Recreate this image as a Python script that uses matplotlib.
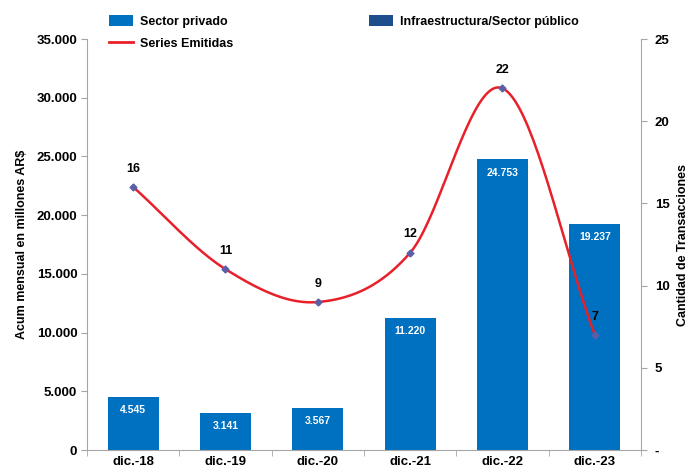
import numpy as np
import matplotlib
matplotlib.use("Agg")
import matplotlib.pyplot as plt
from matplotlib.patches import Patch
from matplotlib.lines import Line2D
from matplotlib.ticker import FuncFormatter, FixedLocator

plt.rcParams['font.family'] = ['Liberation Sans', 'DejaVu Sans']
plt.rcParams['font.weight'] = 'bold'

categories = ["dic.-18", "dic.-19", "dic.-20", "dic.-21", "dic.-22", "dic.-23"]
sector_privado = [4545, 3141, 3567, 11220, 24753, 19237]
series_emitidas = [16, 11, 9, 12, 22, 7]

BAR = "#0070C0"
DARK = "#1F4E8C"
RED = "#E8202A"
GREY = "#A6A6A6"

fig = plt.figure(figsize=(6.91, 4.69), dpi=100)
ax = fig.add_axes([87/691, 19/469, (641-87)/691, (450-39)/469])
ax2 = ax.twinx()

x = np.arange(len(categories))
bars = ax.bar(x, sector_privado, width=0.55, color=BAR, zorder=2)
for xi, v in zip(x, sector_privado):
    ax.text(xi, v - 700, f"{v:,}".replace(",", "."), ha="center", va="top",
            color="white", fontsize=7.5, fontweight="bold", zorder=3)

ax.set_xlim(-0.5, len(categories) - 0.5)
ax.set_ylim(0, 35000)
ax.yaxis.set_major_locator(FixedLocator(np.arange(0, 35001, 5000)))
ax.yaxis.set_major_formatter(FuncFormatter(lambda v, p: f"{int(v):,}".replace(",", ".")))
ax.set_xticks(x)
ax.set_xticklabels(categories)
ax.set_xticks(np.arange(-0.5, len(categories), 1.0), minor=True)
ax.tick_params(axis="x", which="major", length=0, pad=4, labelsize=9.5)
ax.tick_params(axis="x", which="minor", length=4, color=GREY, direction="out")
ax.tick_params(axis="y", length=4, color=GREY, labelsize=9.5, pad=3)
for lab in ax.get_xticklabels() + ax.get_yticklabels():
    lab.set_fontweight("bold")
ax.set_ylabel("Acum mensual en millones AR$", fontsize=9, fontweight="bold", labelpad=6)

# smooth line (Catmull-Rom through the data points)
def catmull_rom(xs, ys, n=40):
    xs = np.asarray(xs, float); ys = np.asarray(ys, float)
    px = np.concatenate([[2*xs[0]-xs[1]], xs, [2*xs[-1]-xs[-2]]])
    py = np.concatenate([[2*ys[0]-ys[1]], ys, [2*ys[-1]-ys[-2]]])
    ox, oy = [], []
    for i in range(1, len(px) - 2):
        t = np.linspace(0, 1, n, endpoint=(i == len(px) - 3))
        for arr, out in ((px, ox), (py, oy)):
            p0, p1, p2, p3 = arr[i-1], arr[i], arr[i+1], arr[i+2]
            out.extend(0.5*((2*p1) + (-p0+p2)*t + (2*p0-5*p1+4*p2-p3)*t**2 + (-p0+3*p1-3*p2+p3)*t**3))
    return np.array(ox), np.array(oy)

sx, sy = catmull_rom(x, series_emitidas)
ax2.plot(sx, sy, color=RED, lw=1.8, zorder=4)
ax2.plot(x, series_emitidas, ls="none", marker="D", ms=3.5, mfc="#5B5FA8", mec="#5B5FA8", zorder=5)
for xi, v in zip(x, series_emitidas):
    ax2.text(xi, v + 0.75, str(v), ha="center", va="bottom", fontsize=9, fontweight="bold", zorder=6)

ax2.set_ylim(0, 25)
ax2.yaxis.set_major_locator(FixedLocator(np.arange(0, 26, 5)))
ax2.yaxis.set_major_formatter(FuncFormatter(lambda v, p: "-" if v == 0 else f"{int(v)}"))
ax2.tick_params(axis="y", length=4, color=GREY, labelsize=9.5, pad=6)
for lab in ax2.get_yticklabels():
    lab.set_fontweight("bold")
ax2.set_ylabel("Cantidad de Transacciones", fontsize=9, fontweight="bold", labelpad=5)

for a in (ax, ax2):
    a.spines["top"].set_visible(False)
    for s in ("left", "right", "bottom"):
        a.spines[s].set_color(GREY)
ax.spines["right"].set_visible(False)
ax2.spines["left"].set_visible(False)
ax2.spines["bottom"].set_visible(False)
ax.set_zorder(1)
ax2.set_zorder(2)

handles = [Patch(facecolor=BAR), Line2D([0], [0], color=RED, lw=2),
           Patch(facecolor=DARK)]
labels = ["Sector privado", "Series Emitidas", "Infraestructura/Sector público"]
fig.legend(handles, labels, ncol=2, loc="upper left", bbox_to_anchor=(98/691, 1 - 4/469),
           frameon=False, prop={"weight": "bold", "size": 9}, handlelength=1.9,
           handleheight=0.9, columnspacing=10.8, labelspacing=0.75, handletextpad=0.6)

fig.savefig("out.png", dpi=100)
